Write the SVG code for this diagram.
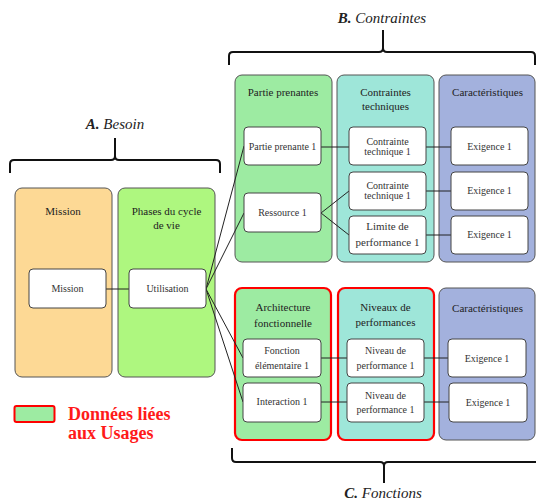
<svg xmlns="http://www.w3.org/2000/svg" width="536" height="502" viewBox="0 0 536 502">
<style>
.pn{stroke:#555;stroke-width:1}
.red{stroke:#ff0000;stroke-width:2.2}
.orange{fill:#fdd995}
.lime{fill:#aef77f}
.green{fill:#9deba2}
.teal{fill:#9ee6d9}
.blue{fill:#a3b1dd}
.box{fill:#fff;stroke:#444;stroke-width:1}
.ttl{font-family:"Liberation Serif",serif;font-size:11px;fill:#222;text-anchor:middle}
.bt{font-family:"Liberation Serif",serif;font-size:10px;fill:#333;text-anchor:middle}
.bt11{font-family:"Liberation Serif",serif;font-size:11px;fill:#333;text-anchor:middle}
.hd{font-family:"Liberation Serif",serif;font-size:15px;font-style:italic;fill:#222;text-anchor:middle}
.br{fill:none;stroke:#111;stroke-width:2}
.cn{fill:none;stroke:#222;stroke-width:1}
.lg{font-family:"Liberation Serif",serif;font-size:18px;font-weight:bold;fill:#ff1a1a}
</style>

<g id="brackets">
<path class="br" d="M10,173 L10,164 Q10,160 14,160 L111,160 Q115,160 115,156 L115,138 M115,156 Q115,160 119,160 L216,160 Q220,160 220,164 L220,173"/>
<path class="br" d="M229,65 L229,56 Q229,52 233,52 L379,52 Q383,52 383,48 L383,30 M383,48 Q383,52 387,52 L531,52 Q535,52 535,56 L535,65"/>
<path class="br" d="M232,448 L232,458 Q232,462 236,462 L380,462 Q384,462 384,466 L384,483 M384,466 Q384,462 388,462 L536,462"/>
<text class="hd" x="115" y="129"><tspan font-weight="bold">A.</tspan> Besoin</text>
<text class="hd" x="382" y="23"><tspan font-weight="bold">B.</tspan> Contraintes</text>
<text class="hd" x="383" y="498"><tspan font-weight="bold">C.</tspan> Fonctions</text>
</g>

<g id="panel-mission"><rect class="pn orange" x="15" y="188" width="97" height="189" rx="7"/><text class="ttl" x="63" y="215">Mission</text></g>
<g id="panel-phases"><rect class="pn lime" x="118" y="188" width="97" height="189" rx="7"/><text class="ttl" x="166.5" y="215">Phases du cycle</text><text class="ttl" x="166.5" y="229">de vie</text></g>
<g id="panel-parties"><rect class="pn green" x="235" y="75" width="97" height="187" rx="7"/><text class="ttl" x="283" y="96">Partie prenantes</text></g>
<g id="panel-contraintes"><rect class="pn teal" x="337" y="75" width="97" height="187" rx="7"/><text class="ttl" x="385.5" y="96">Contraintes</text><text class="ttl" x="385.5" y="110">techniques</text></g>
<g id="panel-caract1"><rect class="pn blue" x="439" y="75" width="96" height="187" rx="7"/><text class="ttl" x="487.5" y="96">Caractéristiques</text></g>
<g id="panel-archi"><rect class="red green" x="235" y="288" width="96" height="152" rx="7"/><text class="ttl" x="283" y="311">Architecture</text><text class="ttl" x="283" y="327">fonctionnelle</text></g>
<g id="panel-niveaux"><rect class="red teal" x="338" y="288" width="96" height="152" rx="7"/><text class="ttl" x="385.5" y="311">Niveaux de</text><text class="ttl" x="385.5" y="326">performances</text></g>
<g id="panel-caract2"><rect class="pn blue" x="439" y="288" width="96" height="152" rx="7"/><text class="ttl" x="487.5" y="312">Caractéristiques</text></g>

<g id="connectors">
<path class="cn" d="M106,289 L129,289"/>
<path class="cn" d="M206,289 L244,146 M206,289 L244,213 M206,289 L243,358 M206,289 L243,402"/>
<path class="cn" d="M321,147 L349,147 M426,147 L451,147"/>
<path class="cn" d="M321,213 L349,191 M321,213 L349,235"/>
<path class="cn" d="M426,191 L451,191 M426,235 L451,235"/>
<path class="cn" d="M321,358 L347,358 M424,358 L448,358"/>
<path class="cn" d="M321,402 L347,402 M424,402 L449,402"/>
</g>

<g id="n-mission"><rect class="box" x="29" y="269" width="77" height="39" rx="4"/><text class="bt" x="67.5" y="292">Mission</text></g>
<g id="n-utilisation"><rect class="box" x="129" y="269" width="77" height="39" rx="4"/><text class="bt" x="167.5" y="292">Utilisation</text></g>
<g id="n-pp1"><rect class="box" x="244" y="127" width="77" height="38" rx="4"/><text class="bt" x="282.5" y="149.5">Partie prenante 1</text></g>
<g id="n-ressource"><rect class="box" x="244" y="193" width="77" height="39" rx="4"/><text class="bt" x="282.5" y="216">Ressource 1</text></g>
<g id="n-ct1"><rect class="box" x="349" y="127" width="77" height="38" rx="4"/><text class="bt" x="387.5" y="144.5">Contrainte</text><text class="bt" x="387.5" y="155">technique 1</text></g>
<g id="n-ct2"><rect class="box" x="349" y="172" width="77" height="38" rx="4"/><text class="bt" x="387.5" y="188.5">Contrainte</text><text class="bt" x="387.5" y="199">technique 1</text></g>
<g id="n-limite"><rect class="box" x="349" y="216" width="77" height="38" rx="4"/><text class="bt11" x="387.5" y="230">Limite de</text><text class="bt11" x="387.5" y="246">performance 1</text></g>
<g id="n-ex1"><rect class="box" x="451" y="127" width="77" height="38" rx="4"/><text class="bt" x="489.5" y="150">Exigence 1</text></g>
<g id="n-ex2"><rect class="box" x="451" y="172" width="77" height="38" rx="4"/><text class="bt" x="489.5" y="194">Exigence 1</text></g>
<g id="n-ex3"><rect class="box" x="451" y="216" width="77" height="38" rx="4"/><text class="bt" x="489.5" y="238">Exigence 1</text></g>
<g id="n-fonction"><rect class="box" x="243" y="339" width="78" height="38" rx="4"/><text class="bt" x="282" y="354">Fonction</text><text class="bt" x="282" y="368.5">élémentaire 1</text></g>
<g id="n-interaction"><rect class="box" x="243" y="383" width="78" height="39" rx="4"/><text class="bt" x="282" y="405">Interaction 1</text></g>
<g id="n-niv1"><rect class="box" x="347" y="339" width="77" height="38" rx="4"/><text class="bt" x="385.5" y="354">Niveau de</text><text class="bt" x="385.5" y="369">performance 1</text></g>
<g id="n-niv2"><rect class="box" x="347" y="383" width="77" height="39" rx="4"/><text class="bt" x="385.5" y="398.5">Niveau de</text><text class="bt" x="385.5" y="413">performance 1</text></g>
<g id="n-ex4"><rect class="box" x="448" y="339" width="78" height="38" rx="4"/><text class="bt" x="487" y="361.5">Exigence 1</text></g>
<g id="n-ex5"><rect class="box" x="449" y="383" width="78" height="39" rx="4"/><text class="bt" x="488" y="405.5">Exigence 1</text></g>

<g id="legend">
<rect x="14.5" y="406" width="40" height="16" rx="2" fill="#9deba2" stroke="#ff0000" stroke-width="2"/>
<text class="lg" x="68" y="420">Données liées</text>
<text class="lg" x="68" y="439">aux Usages</text>
</g>
</svg>
